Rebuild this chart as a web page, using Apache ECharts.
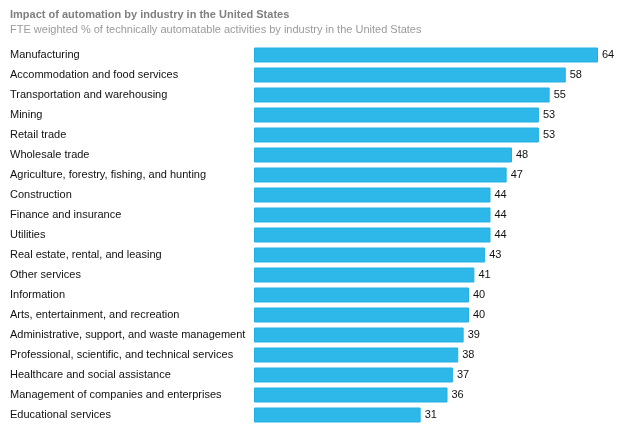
<!DOCTYPE html>
<html>
<head>
<meta charset="utf-8">
<script src="https://cdn.jsdelivr.net/npm/echarts@6/dist/echarts.min.js"></script>
<style>
  html, body { margin: 0; padding: 0; background: #fff; }
  #chart { width: 640px; height: 431px; }
</style>
</head>
<body>
<div id="chart"></div>
<script>
// 行业名称（自上而下）
const industries = [
    'Manufacturing',
    'Accommodation and food services',
    'Transportation and warehousing',
    'Mining',
    'Retail trade',
    'Wholesale trade',
    'Agriculture, forestry, fishing, and hunting',
    'Construction',
    'Finance and insurance',
    'Utilities',
    'Real estate, rental, and leasing',
    'Other services',
    'Information',
    'Arts, entertainment, and recreation',
    'Administrative, support, and waste management',
    'Professional, scientific, and technical services',
    'Healthcare and social assistance',
    'Management of companies and enterprises',
    'Educational services'
];

// 可自动化比例 (%)
const automatable = [64, 58, 55, 53, 53, 48, 47, 44, 44, 44, 43, 41, 40, 40, 39, 38, 37, 36, 31];

const titleText = 'Impact of automation by industry in the United States';
const subtitleText = 'FTE weighted % of technically automatable activities by industry in the United States';

const chart = echarts.init(document.getElementById('chart'));

const option = {
    animation: false,
    title: {
        text: titleText,
        subtext: subtitleText,
        left: 5,
        top: 4,
        itemGap: 4,
        textStyle: {
            fontFamily: 'Liberation Sans',
            fontSize: 11,
            fontWeight: 'bold',
            color: '#7f7f7f'
        },
        subtextStyle: {
            fontFamily: 'Liberation Sans',
            fontSize: 11,
            color: '#9a9a9a'
        }
    },
    grid: {
        left: 254,
        right: 42,
        top: 45,
        bottom: 6,
        containLabel: false
    },
    xAxis: {
        type: 'value',
        min: 0,
        max: 64,
        show: false
    },
    yAxis: {
        type: 'category',
        inverse: true,
        data: industries,
        axisLine: { show: false },
        axisTick: { show: false },
        axisLabel: {
            align: 'left',
            margin: 244,
            width: 250,
            overflow: 'none',
            padding: [2, 0, 0, 0],
            fontFamily: 'Liberation Sans',
            fontSize: 11,
            color: '#111'
        }
    },
    series: [{
        type: 'bar',
        data: automatable,
        barCategoryGap: '25%',
        itemStyle: {
            color: '#2eb8ea',
            borderColor: '#22b0e4',
            borderWidth: 1
        },
        label: {
            show: true,
            position: 'right',
            distance: 4,
            padding: [2, 0, 0, 0],
            fontFamily: 'Liberation Sans',
            fontSize: 11,
            color: '#111'
        }
    }]
};

chart.setOption(option);

window.addEventListener('resize', function() {
    chart.resize();
});
</script>
</body>
</html>
